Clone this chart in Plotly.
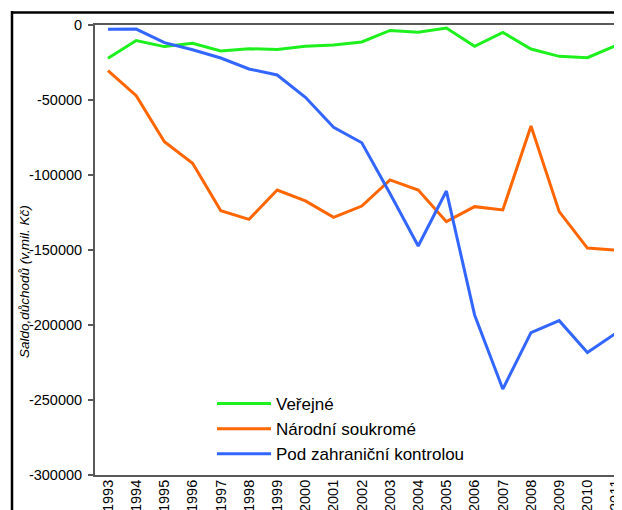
import plotly.graph_objects as go

# Saldo důchodů podle sektorů, v mil. Kč
years = [str(y) for y in range(1993, 2012)]
verejne = [-22200, -10400, -14400, -12200, -17300, -15800, -16400, -14200, -13300, -11300,
           -3600, -4900, -2000, -14200, -4900, -16000, -20900, -21800, -13800]
narodni = [-30400, -47100, -77800, -92200, -123800, -129600, -110000, -117300, -128200, -120700,
           -103300, -110000, -131100, -121100, -123300, -67300, -124400, -148700, -150000]
zahranicni = [-2900, -2700, -11800, -16500, -22000, -29300, -33300, -48200, -68200, -78500,
              -112300, -147300, -110700, -193300, -242700, -205100, -197100, -218400, -205600]
series_names = ["Veřejné", "Národní soukromé", "Pod zahraniční kontrolou"]
y_ticks = [0, -50000, -100000, -150000, -200000, -250000, -300000]

COLORS = {"verejne": "#1ef01e", "narodni": "#ff6600", "zahranicni": "#3366ff"}
FONT = "Liberation Sans, Arial, sans-serif"

# the page body has an 8px margin, so the figure is offset by that much;
# geometry below is in page pixels of the 622x510 window
OFF = 8
PLOT_L, PLOT_T, PLOT_B = 95, 25, 475
ML, MT = PLOT_L - OFF, PLOT_T - OFF
MB = 510 + OFF - PLOT_B
W, H = 622 - ML, PLOT_B - PLOT_T
STEP = 28.2  # px per year
X0 = -(108 - PLOT_L) / STEP


def px_x(p):
    return (p - PLOT_L) / W


def px_y(p):
    return (PLOT_B - p) / H


fig = go.Figure()
for name, vals, key in zip(series_names, [verejne, narodni, zahranicni],
                           ["verejne", "narodni", "zahranicni"]):
    fig.add_trace(go.Scatter(
        x=years, y=vals, mode="lines", name=name,
        line={"color": COLORS[key], "width": 3},
    ))

fig.update_layout(
    width=622, height=510,
    margin={"l": ML, "r": 0, "t": MT, "b": MB},
    paper_bgcolor="white", plot_bgcolor="white",
    font={"family": FONT, "color": "black", "size": 14.5},
    showlegend=True,
    legend={
        "x": px_x(212), "y": px_y(386), "xanchor": "left", "yanchor": "top",
        "font": {"size": 17}, "itemwidth": 54, "bgcolor": "rgba(0,0,0,0)",
    },
    xaxis={
        "type": "category", "range": [X0, X0 + W / STEP],
        "showline": True, "linecolor": "#595959", "linewidth": 2, "mirror": True,
        "showgrid": False, "ticks": "", "tickangle": -90,
        "ticklabelstandoff": -3,
        "tickfont": {"size": 14.5},
    },
    yaxis={
        "range": [-300000, 0], "tickvals": y_ticks,
        "ticktext": [str(v) for v in y_ticks],
        "showline": True, "linecolor": "#595959", "linewidth": 2,
        "showgrid": False, "zeroline": False,
        "ticks": "outside", "ticklen": 5, "tickcolor": "#595959", "tickwidth": 1.5,
        "ticklabelstandoff": 3,
        "tickfont": {"size": 14.5},
    },
)

fig.add_annotation(
    text="<i>Saldo,důchodů (v,mil. Kč)</i>", textangle=-90,
    xref="paper", yref="paper", x=px_x(24), y=px_y(282),
    xanchor="center", yanchor="middle", showarrow=False,
    font={"size": 13.5},
)

# chart frame borders
border = {"type": "line", "xref": "paper", "yref": "paper"}
fig.add_shape(**border, x0=px_x(12), x1=px_x(12), y0=px_y(11), y1=px_y(525),
              line={"color": "black", "width": 2.5})
fig.add_shape(**border, x0=px_x(11), x1=px_x(640), y0=px_y(12.5), y1=px_y(12.5),
              line={"color": "black", "width": 2.5})

fig.write_html("out.html")
